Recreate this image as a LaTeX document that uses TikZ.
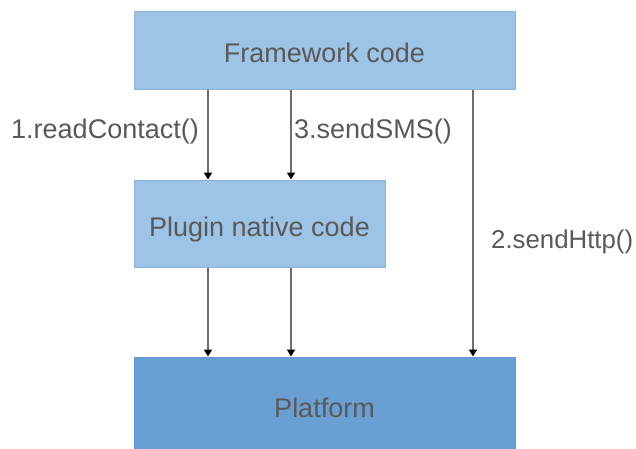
\documentclass[tikz,border=0pt]{standalone}
\usepackage{fontspec}
\setmainfont{Liberation Sans}
\usetikzlibrary{arrows.meta}
\definecolor{lightbox}{HTML}{9DC3E6}
\definecolor{lightedge}{HTML}{8DB3DC}
\definecolor{darkbox}{HTML}{6A9FD4}
\definecolor{darkedge}{HTML}{6598CC}
\definecolor{txt}{HTML}{595959}
\definecolor{linec}{HTML}{6E6E6E}
\begin{document}
\begin{tikzpicture}[x=1pt,y=-1pt,
  box/.style={rectangle, draw=lightedge, fill=lightbox, line width=1pt, inner sep=0pt,
    text=txt, font=\fontsize{27}{30}\selectfont, text height=27pt, text depth=2pt},
  dbox/.style={box, draw=darkedge, fill=darkbox},
  lbl/.style={text=txt, font=\fontsize{27}{30}\selectfont, inner sep=0pt},
  arr/.style={draw=linec, line width=1.8pt, -{Triangle[width=8pt,length=7pt,color=black]}}]
\useasboundingbox (0,0) rectangle (636,448);
\node[box, minimum width=381pt, minimum height=78pt] (fw) at (324.5,50) {Framework code};
\node[box, minimum width=251pt, minimum height=87pt] (pl) at (259.5,223.5) {Plugin native code};
\node[dbox, minimum width=381pt, minimum height=92pt] (pf) at (324.5,403) {};
\node[lbl] (pft) at (324.5,408) {Platform};
\coordinate (xa) at (208,0);
\coordinate (xb) at (291,0);
\coordinate (xc) at (473,0);
\draw[arr] (fw.south -| xa) -- (pl.north -| xa);
\draw[arr] (fw.south -| xb) -- (pl.north -| xb);
\draw[arr] (pl.south -| xa) -- (pf.north -| xa);
\draw[arr] (pl.south -| xb) -- (pf.north -| xb);
\draw[arr] (fw.south -| xc) -- (pf.north -| xc);
\node[lbl, anchor=east] (l1) at (199,132) {1.readContact()};
\node[lbl, anchor=west] (l3) at (294,132) {3.sendSMS()};
\node[lbl, anchor=west, font=\fontsize{25.8}{30}\selectfont] (l2) at (491,242) {2.sendHttp()};
\end{tikzpicture}
\end{document}
